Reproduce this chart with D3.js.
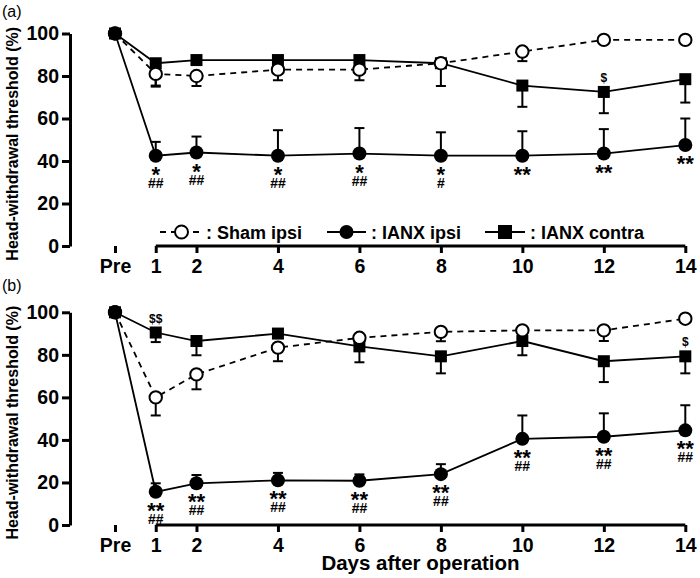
<!DOCTYPE html>
<html>
<head>
<meta charset="utf-8">
<script src="https://cdn.jsdelivr.net/npm/d3@7"></script>
<style>
  body { margin: 0; background: #fff; }
  svg { font-family: "Liberation Sans", Arial, sans-serif; }
  .axis path, .axis line { stroke: #000; stroke-width: 3px; }
  .axis text { font-size: 19.5px; font-weight: bold; fill: #000; }
</style>
</head>
<body>
<svg id="chart" width="700" height="578"></svg>
<script>
// days after operation (0 = Pre)
let days = [0, 1, 2, 4, 6, 8, 10, 12, 14]
let day_labels = ["Pre", "1", "2", "4", "6", "8", "10", "12", "14"]
let y_ticks = [0, 20, 40, 60, 80, 100]

// panel (a)
let shamA = [100, 81, 80, 83, 83, 86, 91.5, 97, 97]
let shamA_err = [0, 6, 4.7, 5, 5, 2, 4.5, 1, 1]
let ipsiA = [100, 42.5, 44, 42.5, 43.5, 42.5, 42.5, 43.5, 47.5]
let ipsiA_err = [0, 6.5, 7.5, 12, 12, 11, 11.5, 11.5, 12.5]
let contraA = [100, 86, 87.5, 87.5, 87.5, 86, 75.5, 72.5, 78.5]
let contraA_err = [0, 10.5, 1.5, 1.5, 1.5, 10.7, 10, 10, 11]
let starA = ["", "*", "*", "*", "*", "*", "**", "**", "**"]
let hashA = ["", "##", "##", "##", "##", "#", "", "", ""]
let dollarA = ["", "", "", "", "", "", "", "$", ""]

// panel (b)
let shamB = [100, 60, 70.8, 83.4, 88, 90.8, 91.5, 91.5, 97]
let shamB_err = [0, 8.5, 7, 6.4, 1.5, 4.4, 2, 5, 1]
let ipsiB = [100, 15.6, 19.6, 21, 20.8, 23.9, 40.5, 41.5, 44.5]
let ipsiB_err = [0, 4, 3.9, 3.5, 3, 4.7, 11, 11, 11.8]
let contraB = [100, 90.5, 86.5, 90, 84, 79.3, 86.5, 77, 79.3]
let contraB_err = [0, 4.5, 6.7, 1.5, 7.5, 8, 6.7, 9.8, 8]
let starB = ["", "**", "**", "**", "**", "**", "**", "**", "**"]
let hashB = ["", "##", "##", "##", "##", "##", "##", "##", "##"]
let dollarB = ["", "$$", "", "", "", "", "", "", "$"]

let svg = d3.select("#chart")
let x = d3.scaleLinear().domain([0, 14]).range([115, 685.3])

function panel(top, bottom, label, label_y, sham, sham_err, ipsi, ipsi_err, contra, contra_err, stars, hashes, dollars) {
  let y = d3.scaleLinear().domain([0, 100]).range([bottom, top])
  let g = svg.append("g")

  // axes
  g.append("g").attr("class", "axis")
    .attr("transform", `translate(70,0)`)
    .call(d3.axisLeft(y).tickValues(y_ticks).tickSize(8).tickSizeOuter(0).tickPadding(3))
  let x_axis = g.append("g").attr("class", "axis")
    .attr("transform", `translate(0,${bottom})`)
    .call(d3.axisBottom(x).tickValues(days).tickFormat((d, i) => day_labels[i]).tickSize(7).tickSizeOuter(0).tickPadding(6))
  // no baseline under "Pre"
  x_axis.select(".domain").attr("d", `M${x(1)},0H${x(14)}`)

  g.append("text")
    .text("Head-withdrawal threshold (%)")
    .attr("transform", `translate(18, ${(top + bottom) / 2 + 4})rotate(-90)`)
    .attr("text-anchor", "middle")
    .style("font-size", "16px").style("font-weight", "bold")

  g.append("text").text(label)
    .attr("x", 2).attr("y", label_y)
    .style("font-size", "16px")

  let pts = arr => days.map((d, i) => ({day: d, v: arr[i], i: i}))
  let line = d3.line().x(d => x(d.day)).y(d => y(d.v))

  // lines
  g.append("path").datum(pts(contra)).attr("d", line)
    .attr("fill", "none").attr("stroke", "#000").attr("stroke-width", 1.8)
  g.append("path").datum(pts(ipsi)).attr("d", line)
    .attr("fill", "none").attr("stroke", "#000").attr("stroke-width", 1.8)
  g.append("path").datum(pts(sham)).attr("d", line)
    .attr("fill", "none").attr("stroke", "#000").attr("stroke-width", 1.8)
    .attr("stroke-dasharray", "6,5")

  // error bars (one-sided)
  function err_bars(vals, errs, dir) {
    let data = pts(vals).filter(d => errs[d.i] > 0)
    let eb = g.append("g")
    eb.selectAll("line.v").data(data).enter().append("line")
      .attr("x1", d => x(d.day)).attr("x2", d => x(d.day))
      .attr("y1", d => y(d.v)).attr("y2", d => y(d.v + dir * errs[d.i]))
      .attr("stroke", "#000").attr("stroke-width", 2)
    eb.selectAll("line.c").data(data).enter().append("line")
      .attr("x1", d => x(d.day) - 5).attr("x2", d => x(d.day) + 5)
      .attr("y1", d => y(d.v + dir * errs[d.i])).attr("y2", d => y(d.v + dir * errs[d.i]))
      .attr("stroke", "#000").attr("stroke-width", 2)
  }
  err_bars(contra, contra_err, -1)
  err_bars(sham, sham_err, -1)
  err_bars(ipsi, ipsi_err, 1)

  // markers
  g.append("g").selectAll("rect").data(pts(contra)).enter().append("rect")
    .attr("x", d => x(d.day) - 6).attr("y", d => y(d.v) - 6)
    .attr("width", 12).attr("height", 12).attr("fill", "#000")
  g.append("g").selectAll("circle").data(pts(sham)).enter().append("circle")
    .attr("cx", d => x(d.day)).attr("cy", d => y(d.v)).attr("r", 6.2)
    .attr("fill", "#fff").attr("stroke", "#000").attr("stroke-width", 2)
  g.append("g").selectAll("circle").data(pts(ipsi)).enter().append("circle")
    .attr("cx", d => x(d.day)).attr("cy", d => y(d.v)).attr("r", 7)
    .attr("fill", "#000")

  // significance marks
  g.append("g").selectAll("text").data(pts(ipsi)).enter().append("text")
    .text(d => stars[d.i])
    .attr("x", d => x(d.day)).attr("y", d => y(d.v) + 26)
    .attr("text-anchor", "middle")
    .style("font-size", "22px").style("font-weight", "bold")
  g.append("g").selectAll("text").data(pts(ipsi)).enter().append("text")
    .text(d => hashes[d.i])
    .attr("x", d => x(d.day)).attr("y", d => y(d.v) + 32)
    .attr("text-anchor", "middle")
    .style("font-size", "14px").style("font-weight", "bold")
  g.append("g").selectAll("text").data(pts(contra)).enter().append("text")
    .text(d => dollars[d.i])
    .attr("x", d => x(d.day)).attr("y", d => y(d.v) - 10)
    .attr("text-anchor", "middle")
    .style("font-size", "12px").style("font-weight", "bold")
}

panel(33.5, 246, "(a)", 17, shamA, shamA_err, ipsiA, ipsiA_err, contraA, contraA_err, starA, hashA, dollarA)
panel(312.3, 525, "(b)", 291, shamB, shamB_err, ipsiB, ipsiB_err, contraB, contraB_err, starB, hashB, dollarB)

svg.append("text").text("Days after operation")
  .attr("x", (x(1) + x(14)) / 2).attr("y", 570)
  .attr("text-anchor", "middle")
  .style("font-size", "20.5px").style("font-weight", "bold")

// legend
let legend = svg.append("g").attr("transform", "translate(0,232)")
let leg_items = [
  {name: ": Sham ipsi", x0: 160, x1: 203, tx: 206, shape: "open", dash: "6,5"},
  {name: ": IANX ipsi", x0: 327, x1: 366, tx: 371, shape: "dot", dash: null},
  {name: ": IANX contra", x0: 485, x1: 525, tx: 530, shape: "square", dash: null}
]
leg_items.forEach(d => {
  legend.append("line").attr("x1", d.x0).attr("x2", d.x1).attr("y1", 0).attr("y2", 0)
    .attr("stroke", "#000").attr("stroke-width", 1.8)
    .attr("stroke-dasharray", d.dash)
  let cx = (d.x0 + d.x1) / 2
  if (d.shape == "open")
    legend.append("circle").attr("cx", cx).attr("cy", 0).attr("r", 6.5)
      .attr("fill", "#fff").attr("stroke", "#000").attr("stroke-width", 2)
  else if (d.shape == "dot")
    legend.append("circle").attr("cx", cx).attr("cy", 0).attr("r", 7).attr("fill", "#000")
  else
    legend.append("rect").attr("x", cx - 7).attr("y", -7).attr("width", 14).attr("height", 14).attr("fill", "#000")
  legend.append("text").text(d.name).attr("x", d.tx).attr("y", 6.5)
    .style("font-size", "18px").style("font-weight", "bold")
})
</script>
</body>
</html>
